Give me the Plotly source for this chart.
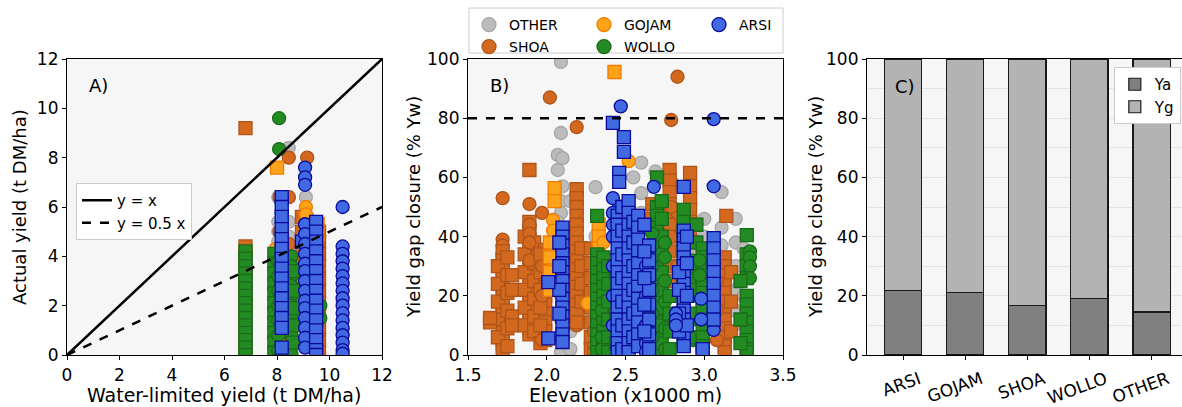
import plotly.graph_objects as go

# ---------------- data ----------------
REGIONS = ["OTHER", "SHOA", "GOJAM", "WOLLO", "ARSI"]
LEGEND_ROW1 = ["OTHER", "GOJAM", "ARSI"]
LEGEND_ROW2 = ["SHOA", "WOLLO"]

# Panel A: columns of (water-limited yield, marker, [actual yields])
A_OTHER = [
    (8.05, "circle", [6.4, 5.4, 5.0, 4.6, 4.2, 3.5, 2.8]),
    (8.45, "circle", [8.4, 6.4, 5.4, 4.8, 4.4, 3.9, 3.0]),
    (9.1, "circle", [6.4, 5.5, 4.9, 4.3]),
    (9.55, "circle", [4.8, 3.6]),
    (10.5, "circle", [2.2, 1.0]),
]
A_SHOA = [
    (6.8, "square", [9.2, 4.4, 4.0, 3.5, 3.0, 2.5, 2.0, 1.5, 1.0, 0.5, 0.0]),
    (8.1, "circle", [6.4, 5.0, 4.3, 3.8]),
    (8.45, "circle", [8.0, 6.4, 4.5]),
    (9.15, "circle", [8.0, 5.6, 4.8]),
    (8.1, "square", [4.2, 3.8, 3.1, 2.4, 1.8, 1.1, 0.4]),
    (8.95, "square", [5.6, 5.0, 4.0, 3.0, 2.0]),
    (9.6, "square", [5.0, 4.6, 4.1, 3.6, 3.1, 2.6, 2.1, 1.6, 1.1, 0.6, 0.1]),
]
A_GOJAM = [
    (8.0, "square", [7.6]),
    (9.1, "circle", [6.0, 5.7]),
    (7.95, "circle", [4.3, 3.0]),
    (8.2, "circle", [2.0, 1.8]),
    (9.55, "square", [5.3, 4.9]),
]
A_WOLLO = [
    (8.08, "circle", [9.6, 8.35]),
    (6.8, "square", [4.2, 3.9, 3.6, 3.3, 3.0, 2.7, 2.4, 2.1, 1.8, 1.5, 1.2, 0.9, 0.6, 0.3, 0.0]),
    (7.9, "square", [4.1, 3.7, 3.3, 2.9, 2.5, 2.1, 1.7, 1.3, 0.9, 0.5, 0.1]),
    (8.05, "circle", [3.8, 3.2, 2.6, 2.0, 1.4, 0.8, 0.2]),
    (8.55, "circle", [4.0, 3.6, 3.2, 2.8, 2.4, 2.0, 1.6, 1.2, 0.8, 0.4, 0.05]),
    (8.6, "square", [3.4, 2.6, 1.9, 1.2, 0.5]),
    (9.65, "circle", [2.0, 1.5]),
]
A_ARSI = [
    (8.18, "square", [6.4, 6.0, 5.6, 5.1, 4.7, 4.3, 3.9, 3.5, 3.1, 2.7, 2.3, 1.9, 1.5, 1.1, 0.3]),
    (8.95, "square", [4.6]),
    (9.07, "circle", [7.6, 7.2, 6.9, 5.3, 4.9, 4.5, 4.1, 3.7, 3.4, 3.0, 2.6, 2.2, 1.9, 1.5, 1.1, 0.7, 0.3]),
    (9.49, "square", [5.4, 5.0, 4.6, 4.2, 3.8, 3.4, 3.0, 2.6, 2.2, 1.8, 1.4, 1.0, 0.6, 0.2, 0.0]),
    (10.5, "circle", [6.0, 4.4, 4.1, 3.8, 3.5, 3.2, 2.9, 2.6, 2.3, 2.0, 1.7, 1.4, 1.1, 0.8, 0.5, 0.2, 0.05]),
]

# Panel B: columns of (elevation x1000 m, marker, [yield gap closure %])
B_OTHER = [
    (2.09, "circle", [99, 75, 52, 48, 40, 30, 20, 12, 5, 1]),
    (2.07, "circle", [67.6, 62.5, 45, 35, 25]),
    (2.1, "circle", [66.5, 57, 27, 15]),
    (2.15, "circle", [52, 42, 33, 8, 2]),
    (2.31, "circle", [56.7, 40, 22]),
    (2.6, "circle", [65, 54.7, 48]),
    (2.69, "circle", [62, 44, 38]),
    (2.55, "circle", [60, 46]),
    (2.8, "circle", [58, 50, 45]),
    (3.0, "circle", [46, 40, 30]),
    (3.11, "circle", [55, 43, 37, 28]),
    (3.2, "circle", [46, 38, 30, 22, 15]),
    (3.25, "circle", [36, 20, 10]),
    (2.9, "circle", [44, 36]),
    (1.95, "circle", [30, 10]),
]
B_SHOA = [
    (1.72, "circle", [53, 39, 37, 34, 31, 28, 25, 22, 19, 16, 13, 10, 7, 4, 2]),
    (1.72, "square", [35, 32, 29, 26, 23, 20, 17, 14, 11, 8, 5, 2]),
    (1.69, "square", [30, 24, 18, 12, 6]),
    (1.75, "square", [33, 27, 21, 15, 9, 3]),
    (1.64, "square", [11, 12.5]),
    (1.78, "square", [13, 10, 27, 22]),
    (1.89, "square", [62.5, 45, 42, 39, 36, 33, 30, 27, 24, 21, 18, 15, 12, 9, 7]),
    (1.86, "square", [40, 34, 28, 22, 16, 10]),
    (1.92, "square", [38, 31, 25, 19, 13, 8]),
    (1.89, "circle", [51, 44, 41, 38, 32]),
    (1.99, "square", [35.5, 32, 29, 26, 23, 20, 17, 14, 11, 8, 5]),
    (1.96, "square", [34, 28, 22, 16, 10, 4]),
    (1.97, "circle", [48, 30, 20, 5]),
    (2.02, "circle", [87]),
    (2.19, "circle", [77, 43, 36, 31, 12, 10]),
    (2.19, "square", [56, 53, 50, 47, 44, 41, 38, 35, 32, 29, 26, 23, 20, 17, 14, 11]),
    (2.22, "square", [36, 30, 24, 18]),
    (2.28, "square", [36, 31, 26, 21, 16, 11, 6, 2]),
    (2.3, "circle", [8, 3, 1]),
    (2.45, "square", [20, 10, 4]),
    (2.67, "square", [51, 46]),
    (2.78, "square", [62.5, 59, 55, 51, 47, 44, 40, 35, 30, 25]),
    (2.91, "square", [61.5, 57, 53, 49, 45, 41]),
    (2.83, "circle", [94, 48, 30]),
    (2.79, "circle", [79.4, 50, 40]),
    (2.7, "square", [45, 38, 30]),
    (3.14, "square", [47]),
    (3.13, "square", [33, 30, 27, 24, 21, 18, 15, 12, 9, 6, 3, 1]),
    (3.17, "square", [28, 18, 8]),
    (3.08, "circle", [25, 15, 5]),
]
B_GOJAM = [
    (2.43, "square", [95.6]),
    (2.52, "circle", [65.5]),
    (2.05, "square", [56.4, 52]),
    (2.04, "circle", [45.6, 42, 36, 30, 25]),
    (2.02, "square", [38, 33, 28, 22]),
    (2.26, "circle", [17.5]),
    (2.33, "square", [44, 40, 36, 33]),
    (2.36, "circle", [38, 30]),
    (2.45, "circle", [47]),
]
B_WOLLO = [
    (2.32, "square", [47, 34, 31, 28, 25, 22, 19, 16, 13, 10, 7, 4, 1]),
    (2.36, "square", [33, 29, 26, 23, 20, 17, 14, 11, 8, 5, 2]),
    (2.35, "circle", [15, 6, 2]),
    (2.39, "square", [30, 24, 18, 12, 6, 1]),
    (2.44, "square", [28, 20, 12, 4]),
    (2.7, "square", [60, 50, 47, 43, 39, 35, 31, 27, 23, 19, 15, 11, 7, 3, 1]),
    (2.73, "square", [52, 46, 40, 34, 28, 22, 16, 10, 4]),
    (2.67, "circle", [41, 37, 30, 22, 14, 6]),
    (2.75, "circle", [38, 33, 25, 18, 9, 2]),
    (2.78, "square", [20, 14, 8, 2]),
    (2.87, "square", [49, 45, 41, 37, 33, 28, 24, 19, 14, 9, 4]),
    (2.93, "circle", [32, 26, 20, 12, 5]),
    (2.95, "square", [44, 38, 30, 22, 14, 6]),
    (2.99, "square", [36, 33, 30, 27, 24, 21, 18, 15, 12, 9, 6, 3, 1]),
    (2.97, "circle", [32, 27]),
    (3.27, "square", [40.5, 34, 30, 26, 20, 17, 14, 11, 8, 5, 2, 1]),
    (3.29, "circle", [35, 33, 30, 26]),
    (3.23, "square", [25, 12, 4]),
]
B_ARSI = [
    (2.1, "square", [43, 40, 37, 34, 31, 28, 25, 22, 19, 16, 13, 10, 7, 4.4]),
    (2.08, "square", [38, 30, 22, 14]),
    (2.01, "square", [24.6, 5.6]),
    (2.47, "circle", [84]),
    (2.42, "square", [78.4]),
    (2.49, "square", [73.6, 68.6]),
    (2.46, "square", [61.5, 58.5, 50]),
    (2.42, "circle", [53, 48, 44, 40, 30, 20, 10]),
    (2.45, "square", [47, 44, 40, 36, 32, 28, 24, 20, 16, 12, 8, 4, 1]),
    (2.48, "square", [50, 42, 34, 26, 18, 10, 2]),
    (2.52, "square", [52, 48, 44, 40, 36, 32, 28, 24, 20, 16, 12, 8, 4, 1]),
    (2.55, "square", [45, 38, 30, 22, 14, 6]),
    (2.58, "square", [47, 43, 39, 35, 31, 27, 23, 19, 15, 11, 7, 3]),
    (2.63, "circle", [30, 20, 10, 4, 1]),
    (2.65, "square", [37, 32, 27, 22, 17, 12, 7, 2]),
    (2.62, "square", [44, 35, 26, 17, 8]),
    (2.68, "circle", [56.8]),
    (2.87, "square", [56.8, 42, 39, 36, 33, 30, 27, 24, 21, 18, 15, 12, 9, 6, 3]),
    (2.84, "square", [28, 22, 14, 8]),
    (2.89, "square", [40, 31, 20, 10]),
    (2.82, "circle", [14, 12, 10]),
    (3.06, "circle", [79.7, 57, 35, 31, 27, 23, 19, 15, 8.5]),
    (3.06, "square", [39.5, 36, 32, 28, 24, 20, 16, 12]),
    (2.99, "square", [2]),
    (2.98, "circle", [19, 12]),
]

A_DATA = {"OTHER": A_OTHER, "SHOA": A_SHOA, "GOJAM": A_GOJAM, "WOLLO": A_WOLLO, "ARSI": A_ARSI}
B_DATA = {"OTHER": B_OTHER, "SHOA": B_SHOA, "GOJAM": B_GOJAM, "WOLLO": B_WOLLO, "ARSI": B_ARSI}

# Reference lines in panel A
LINE_X = [0, 12]
LINE_SLOPES = {"y = x": 1.0, "y = 0.5 x": 0.5}
B_THRESHOLD = 80

# Panel C
C_CATS = ["ARSI", "GOJAM", "SHOA", "WOLLO", "OTHER"]
C_YA = [21.8, 21.0, 16.8, 19.0, 14.5]
C_TOTAL = 100

# ---------------- styles ----------------
FILL = {"OTHER": "#bcbcbc", "SHOA": "#d2691e", "GOJAM": "#ffa31a",
        "WOLLO": "#228b22", "ARSI": "#4169e1"}
EDGE = {"OTHER": "#a6a6a6", "SHOA": "#b0541a", "GOJAM": "#f07c00",
        "WOLLO": "#1a6b1a", "ARSI": "#0a0a9a"}
FONT = "DejaVu Sans"
W, H = 1182, 407
BG = "#f6f6f6"


def px_x(p):
    return p / W


def px_y(p):
    return 1 - p / H


def expand(cols):
    xs, ys, syms = [], [], []
    for x, sym, vals in cols:
        for v in vals:
            xs.append(x)
            ys.append(v)
            syms.append(sym)
    return xs, ys, syms


fig = go.Figure()

for reg in REGIONS:
    for data, xa, ya in ((A_DATA, "x", "y"), (B_DATA, "x2", "y2")):
        xs, ys, syms = expand(data[reg])
        fig.add_trace(go.Scatter(
            x=xs, y=ys, mode="markers", xaxis=xa, yaxis=ya, showlegend=False,
            marker=dict(symbol=syms, size=13, color=FILL[reg],
                        line=dict(color=EDGE[reg], width=1.3)),
            hoverinfo="skip"))

# legend-only entries for regions (two rows)
for lg, row in (("legend", LEGEND_ROW1), ("legend4", LEGEND_ROW2)):
    for rank, reg in enumerate(row):
        fig.add_trace(go.Scatter(
            x=[None], y=[None], mode="markers", name=reg, legend=lg,
            legendrank=rank + 1, xaxis="x2", yaxis="y2",
            marker=dict(symbol="circle", size=14, color=FILL[reg],
                        line=dict(color=EDGE[reg], width=1.3))))

# reference lines in panel A
for (name, slope), dash in zip(LINE_SLOPES.items(), ["solid", "dash"]):
    fig.add_trace(go.Scatter(
        x=LINE_X, y=[slope * v for v in LINE_X], mode="lines", name=name,
        legend="legend2", xaxis="x", yaxis="y",
        line=dict(color="black", width=2.5, dash=dash), hoverinfo="skip"))

# threshold in panel B
fig.add_shape(type="line", xref="x2 domain", yref="y2", x0=0, x1=1,
              y0=B_THRESHOLD, y1=B_THRESHOLD,
              line=dict(color="black", width=2.5, dash="dash"))

# frame of the region legend
fig.add_shape(type="rect", xref="paper", yref="paper",
              x0=px_x(469), x1=px_x(783), y0=px_y(53), y1=px_y(8),
              line=dict(color="#cccccc", width=1), fillcolor="white", layer="below")

# Panel C stacked bars
C_YG = [C_TOTAL - v for v in C_YA]
for name, vals, col in (("Ya", C_YA, "#808080"), ("Yg", C_YG, "#b3b3b3")):
    fig.add_trace(go.Bar(
        x=C_CATS, y=vals, name=name, width=0.6, legend="legend3",
        xaxis="x3", yaxis="y3",
        marker=dict(color=col, line=dict(color="#1a1a1a", width=1.2))))

axis_common = dict(showline=True, linecolor="black", linewidth=1.2, mirror=True,
                   ticks="outside", ticklen=4, tickcolor="black", showgrid=False,
                   zeroline=False, tickfont=dict(family=FONT, size=17, color="black"),
                   automargin=False)

leg_font = dict(family=FONT, size=14, color="black")
fig.update_layout(
    width=W, height=H, autosize=False,
    margin=dict(l=0, r=0, t=0, b=0),
    paper_bgcolor="white", plot_bgcolor=BG,
    font=dict(family=FONT, color="black"),
    barmode="stack",
    xaxis=dict(domain=[px_x(67), px_x(382)], range=[0, 12], dtick=2, anchor="y", **axis_common),
    yaxis=dict(domain=[px_y(355), px_y(59)], range=[0, 12], dtick=2, anchor="x", **axis_common),
    xaxis2=dict(domain=[px_x(468), px_x(783)], range=[1.5, 3.5], dtick=0.5,
                tickformat=".1f", anchor="y2", **axis_common),
    yaxis2=dict(domain=[px_y(355), px_y(59)], range=[0, 100], dtick=20, anchor="x2", **axis_common),
    xaxis3=dict(domain=[px_x(867), 1.0], range=[-0.58, 4.49], type="category",
                tickangle=-20, ticklabelshift=16, ticklabelstandoff=3,
                anchor="y3", **axis_common),
    yaxis3=dict(domain=[px_y(355), px_y(59)], range=[0, 100], dtick=20, anchor="x3",
                **{**axis_common, "showgrid": True, "gridcolor": "#e4e4e4", "gridwidth": 1},
                minor=dict(dtick=10, showgrid=True, gridcolor="#e4e4e4", gridwidth=1)),
    legend=dict(orientation="h", x=px_x(469), y=px_y(9), xanchor="left", yanchor="top",
                entrywidth=70, bgcolor="rgba(0,0,0,0)", borderwidth=0,
                font=leg_font, traceorder="normal"),
    legend4=dict(orientation="h", x=px_x(469), y=px_y(31), xanchor="left", yanchor="top",
                 entrywidth=70, bgcolor="rgba(0,0,0,0)", borderwidth=0,
                 font=leg_font, traceorder="normal"),
    legend2=dict(x=px_x(76), y=px_y(183), xanchor="left", yanchor="top",
                 bgcolor="white", bordercolor="#cccccc", borderwidth=1,
                 font=dict(family=FONT, size=15, color="black")),
    legend3=dict(x=0.999, y=px_y(67), xanchor="right", yanchor="top",
                 bgcolor="white", bordercolor="#cccccc", borderwidth=1,
                 traceorder="normal",
                 font=dict(family=FONT, size=15, color="black")),
)

ann = []
for text, x, y in (("A)", 87, 85), ("B)", 488, 85), ("C)", 893, 87)):
    ann.append(dict(text=text, x=px_x(x), y=px_y(y), xref="paper", yref="paper",
                    xanchor="left", yanchor="middle", showarrow=False,
                    font=dict(family=FONT, size=18, color="black")))
for text, x, y in (("Water-limited yield (t DM/ha)", 224, 395),
                   ("Elevation (x1000 m)", 625, 395)):
    ann.append(dict(text=text, x=px_x(x), y=px_y(y), xref="paper", yref="paper",
                    xanchor="center", yanchor="middle", showarrow=False,
                    font=dict(family=FONT, size=19, color="black")))
for text, x in (("Actual yield (t DM/ha)", 19), ("Yield gap closure (% Yw)", 413),
                ("Yield gap closure (% Yw)", 815)):
    ann.append(dict(text=text, x=px_x(x), y=px_y(207), xref="paper", yref="paper",
                    xanchor="center", yanchor="middle", showarrow=False, textangle=-90,
                    font=dict(family=FONT, size=18, color="black")))
fig.update_layout(annotations=ann)

fig.write_html("out.html")
